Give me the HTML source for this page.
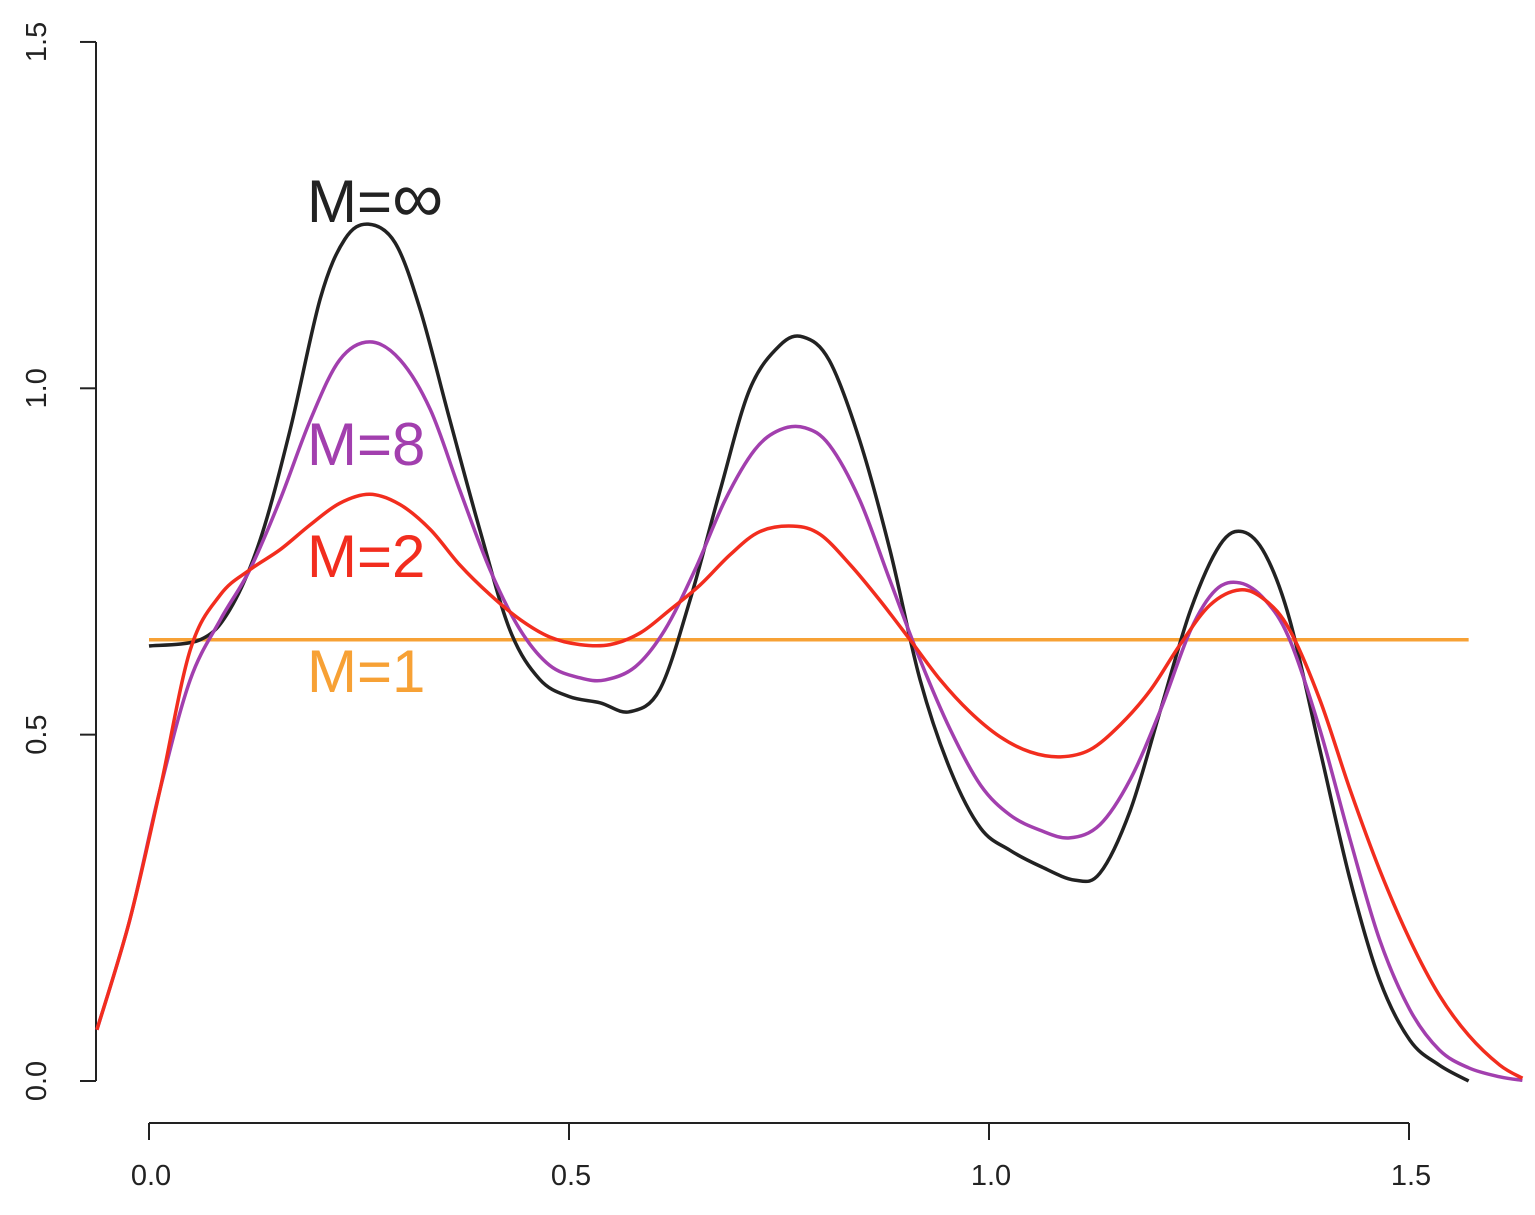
<!DOCTYPE html>
<html><head><meta charset="utf-8"><style>
html,body{margin:0;padding:0;background:#fff;}
svg{display:block;font-family:"Liberation Sans",sans-serif;}
</style></head><body>
<svg id="chart" width="1535" height="1215" viewBox="0 0 1535 1215" xmlns="http://www.w3.org/2000/svg">
<g id="axes"></g>
<g id="series"></g>
<g id="labels">
<text x="307" y="222" font-size="60" fill="#222">M=<tspan font-size="72">∞</tspan></text>
<text x="307" y="465" font-size="60" fill="#a23fae">M=8</text>
<text x="307" y="577" font-size="60" fill="#f22d1e">M=2</text>
<text x="307" y="692" font-size="60" fill="#f7a135">M=1</text>
</g>
</svg>
<script>
const xTicks=[0.0,0.5,1.0,1.5];
const xTickLabels=["0.0","0.5","1.0","1.5"];
const yTicks=[0.0,0.5,1.0,1.5];
const yTickLabels=["0.0","0.5","1.0","1.5"];
const blackX=[0,0.061,0.096,0.132,0.168,0.204,0.233,0.261,0.293,0.323,0.358,0.394,0.43,0.465,0.5,0.537,0.572,0.608,0.644,0.68,0.715,0.751,0.779,0.81,0.846,0.882,0.918,0.954,0.99,1.025,1.061,1.102,1.132,1.168,1.204,1.24,1.275,1.302,1.329,1.358,1.394,1.43,1.465,1.501,1.536,1.571];
const blackY=[0.628,0.637,0.68,0.78,0.94,1.13,1.215,1.237,1.21,1.113,0.955,0.795,0.65,0.58,0.555,0.546,0.533,0.565,0.694,0.853,0.998,1.062,1.074,1.04,0.925,0.767,0.579,0.449,0.365,0.333,0.31,0.29,0.3,0.39,0.535,0.68,0.774,0.793,0.76,0.666,0.478,0.29,0.146,0.059,0.023,0];
const purpleX=[-0.062,-0.023,0.013,0.049,0.085,0.12,0.156,0.192,0.227,0.263,0.299,0.335,0.37,0.406,0.442,0.477,0.513,0.543,0.579,0.614,0.65,0.686,0.721,0.751,0.781,0.81,0.846,0.882,0.918,0.954,0.99,1.025,1.061,1.096,1.132,1.168,1.204,1.24,1.27,1.299,1.329,1.358,1.394,1.43,1.465,1.501,1.536,1.571,1.608,1.635];
const purpleY=[0.074,0.232,0.42,0.579,0.666,0.738,0.839,0.954,1.041,1.067,1.041,0.969,0.853,0.738,0.651,0.6,0.582,0.579,0.598,0.651,0.738,0.839,0.911,0.94,0.943,0.918,0.839,0.723,0.608,0.507,0.427,0.384,0.362,0.351,0.37,0.435,0.535,0.651,0.709,0.719,0.694,0.637,0.507,0.348,0.204,0.103,0.045,0.019,0.006,0.001];
const redX=[-0.062,-0.023,0.013,0.049,0.085,0.12,0.156,0.192,0.227,0.263,0.299,0.335,0.37,0.406,0.442,0.477,0.513,0.549,0.585,0.62,0.656,0.692,0.727,0.767,0.799,0.835,0.87,0.906,0.942,0.977,1.013,1.049,1.085,1.12,1.156,1.192,1.227,1.263,1.299,1.329,1.358,1.394,1.43,1.465,1.501,1.536,1.571,1.608,1.635];
const redY=[0.074,0.232,0.42,0.622,0.702,0.738,0.767,0.803,0.834,0.847,0.832,0.796,0.745,0.702,0.666,0.641,0.63,0.63,0.647,0.68,0.716,0.76,0.793,0.801,0.789,0.745,0.694,0.637,0.579,0.533,0.497,0.475,0.468,0.478,0.514,0.564,0.629,0.687,0.709,0.694,0.651,0.55,0.42,0.305,0.204,0.124,0.066,0.023,0.004];
const orangeX=[0,1.571];
const orangeY=[0.637,0.637];

const NS="http://www.w3.org/2000/svg";
const sx=v=>149+v*840;
const sy=v=>1081-v*692.7;
function mk(tag,attrs,parent){const e=document.createElementNS(NS,tag);for(const k in attrs)e.setAttribute(k,attrs[k]);parent.appendChild(e);return e;}
const axes=document.getElementById('axes');
let yl=mk('line',{x1:96,y1:sy(0),x2:96,y2:sy(1.5),stroke:'#222','stroke-width':2},axes);


yTicks.forEach((t,i)=>{
 const tk=mk('line',{x1:80,x2:96,y1:sy(t),y2:sy(t),stroke:'#222','stroke-width':2},axes);
 
 
 const tx=mk('text',{x:0,y:0,'font-size':29,fill:'#222','text-anchor':'middle',transform:`translate(46,${sy(t)}) rotate(-90)`},axes);
 tx.textContent=yTickLabels[i];
 
 
});
let xl=mk('line',{x1:sx(0),x2:sx(1.5),y1:1123,y2:1123,stroke:'#222','stroke-width':2},axes);


xTicks.forEach((t,i)=>{
 const tk=mk('line',{x1:sx(t),x2:sx(t),y1:1123,y2:1140,stroke:'#222','stroke-width':2},axes);
 
 
 const tx=mk('text',{x:sx(t)+2,y:1185,'font-size':29,fill:'#222','text-anchor':'middle'},axes);
 tx.textContent=xTickLabels[i];
 
 
});
function pathFor(xs,ys){
 const p=xs.map((x,i)=>[sx(x),sy(ys[i])]);
 let d=`M${p[0][0]},${p[0][1]}`;
 for(let i=0;i<p.length-1;i++){
  const p0=p[Math.max(0,i-1)],p1=p[i],p2=p[i+1],p3=p[Math.min(p.length-1,i+2)];
  const c1=[p1[0]+(p2[0]-p0[0])/6,p1[1]+(p2[1]-p0[1])/6];
  const c2=[p2[0]-(p3[0]-p1[0])/6,p2[1]-(p3[1]-p1[1])/6];
  d+=`C${c1[0]},${c1[1]} ${c2[0]},${c2[1]} ${p2[0]},${p2[1]}`;
 }
 return d;
}
const series=document.getElementById('series');
const o=mk('path',{d:pathFor(orangeX,orangeY),fill:'none',stroke:'#f7a135','stroke-width':3.5},series);


const b=mk('path',{d:pathFor(blackX,blackY),fill:'none',stroke:'#222','stroke-width':3.5},series);


const pu=mk('path',{d:pathFor(purpleX,purpleY),fill:'none',stroke:'#a23fae','stroke-width':3.5},series);


const r=mk('path',{d:pathFor(redX,redY),fill:'none',stroke:'#f22d1e','stroke-width':3.5},series);


</script>
</body></html>
